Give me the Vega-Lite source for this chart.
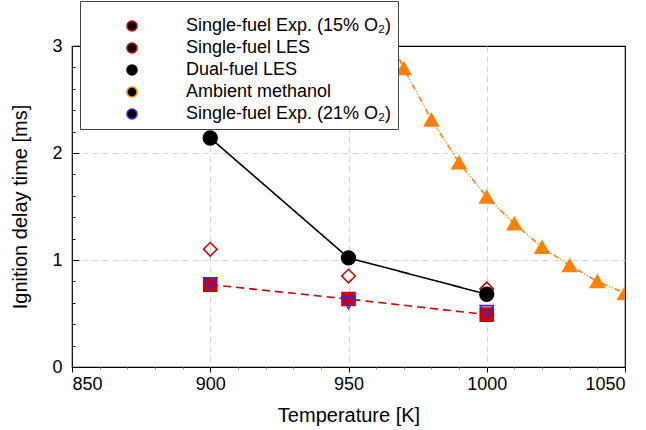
{
  "$schema": "https://vega.github.io/schema/vega-lite/v6.json",
  "width": 553,
  "height": 321,
  "autosize": "none",
  "padding": {"left": 72, "top": 46, "right": 21, "bottom": 63},
  "background": "white",
  "config": {
    "view": {"stroke": "black", "strokeWidth": 1.2},
    "font": "Liberation Sans",
    "axis": {"labelFont": "Liberation Sans", "titleFont": "Liberation Sans", "labelColor": "black", "titleColor": "black", "titleFontWeight": "normal", "domain": false, "tickColor": "black", "labelOverlap": false},
    "legend": {
      "titleFontSize": 8,
      "titleColor": "transparent",
      "titlePadding": 2,
      "orient": "none",
      "legendX": 8,
      "legendY": -45,
      "padding": 6,
      "fillColor": "white",
      "strokeColor": "#444",
      "labelFont": "Liberation Sans",
      "labelFontSize": 18,
      "labelColor": "black",
      "labelLimit": 400,
      "rowPadding": 4,
      "symbolSize": 100,
      "symbolOffset": 37,
      "labelOffset": 45
    }
  },
  "resolve": {"axis": {"x": "independent", "y": "independent"}},
  "data": {"values": [
    {"series": "Single-fuel Exp. (15% O₂)", "T": 900, "t": 1.10},
    {"series": "Single-fuel Exp. (15% O₂)", "T": 950, "t": 0.85},
    {"series": "Single-fuel Exp. (15% O₂)", "T": 1000, "t": 0.73},
    {"series": "Single-fuel LES", "T": 900, "t": 0.77},
    {"series": "Single-fuel LES", "T": 950, "t": 0.635},
    {"series": "Single-fuel LES", "T": 1000, "t": 0.49},
    {"series": "Dual-fuel LES", "T": 900, "t": 2.14},
    {"series": "Dual-fuel LES", "T": 950, "t": 1.02},
    {"series": "Dual-fuel LES", "T": 1000, "t": 0.68},
    {"series": "Ambient methanol", "T": 960, "t": 3.35},
    {"series": "Ambient methanol", "T": 970, "t": 2.79},
    {"series": "Ambient methanol", "T": 980, "t": 2.31},
    {"series": "Ambient methanol", "T": 990, "t": 1.91},
    {"series": "Ambient methanol", "T": 1000, "t": 1.59},
    {"series": "Ambient methanol", "T": 1010, "t": 1.34},
    {"series": "Ambient methanol", "T": 1020, "t": 1.12},
    {"series": "Ambient methanol", "T": 1030, "t": 0.95},
    {"series": "Ambient methanol", "T": 1040, "t": 0.80},
    {"series": "Ambient methanol", "T": 1050, "t": 0.69},
    {"series": "Single-fuel Exp. (21% O₂)", "T": 900, "t": 0.78},
    {"series": "Single-fuel Exp. (21% O₂)", "T": 950, "t": 0.60},
    {"series": "Single-fuel Exp. (21% O₂)", "T": 1000, "t": 0.52}
  ]},
  "layer": [
    {
      "transform": [{"filter": "datum.series === 'Single-fuel LES' || datum.series === 'Dual-fuel LES' || datum.series === 'Ambient methanol'"}],
      "mark": {"type": "line", "clip": true, "strokeWidth": 1.6},
      "encoding": {
        "x": {"field": "T", "type": "quantitative", "title": "Temperature [K]",
          "scale": {"domain": [850, 1050], "nice": false, "zero": false},
          "axis": {"orient": "bottom", "values": [850, 900, 950, 1000, 1050], "format": "d",
            "labelFontSize": 18, "titleFontSize": 20, "labelPadding": 3, "titlePadding": 12,
            "tickSize": 5, "grid": true, "gridColor": "#d4d4d4", "gridDash": [6, 4],
            "gridOpacity": {"condition": {"test": "datum.value > 850 && datum.value < 1050", "value": 1}, "value": 0}}},
        "y": {"field": "t", "type": "quantitative", "title": "Ignition delay time [ms]",
          "scale": {"domain": [0, 3], "nice": false},
          "axis": {"orient": "left", "values": [0, 1, 2, 3], "format": "d",
            "labelFontSize": 18, "titleFontSize": 20, "labelPadding": 17, "titlePadding": 21,
            "tickSize": -7, "grid": true, "gridColor": "#d4d4d4", "gridDash": [6, 4],
            "gridOpacity": {"condition": {"test": "datum.value > 0 && datum.value < 3", "value": 1}, "value": 0}}},
        "color": {"field": "series", "type": "nominal", "legend": null,
          "scale": {"domain": ["Single-fuel LES", "Dual-fuel LES", "Ambient methanol"], "range": ["#d10000", "black", "#ff8000"]}},
        "strokeDash": {"field": "series", "type": "nominal", "legend": null,
          "scale": {"domain": ["Single-fuel LES", "Dual-fuel LES", "Ambient methanol"], "range": [[8, 5], [1, 0], [6, 2, 1, 2, 1, 2]]}}
      }
    },
    {
      "mark": {"type": "point", "clip": true, "strokeWidth": 1.6, "opacity": 1},
      "encoding": {
        "x": {"field": "T", "type": "quantitative",
          "axis": {"orient": "bottom", "values": [860,870,880,890,910,920,930,940,960,970,980,990,1010,1020,1030,1040],
            "labels": false, "title": null, "tickSize": 2, "tickColor": "#888", "grid": false}},
        "y": {"field": "t", "type": "quantitative",
          "axis": {"orient": "left", "values": [0.2,0.4,0.6,0.8,1.2,1.4,1.6,1.8,2.2,2.4,2.6,2.8],
            "labels": false, "title": null, "tickSize": -3, "grid": false}},
        "stroke": {"field": "series", "type": "nominal",
          "scale": {"domain": ["Single-fuel Exp. (15% O₂)", "Single-fuel LES", "Dual-fuel LES", "Ambient methanol", "Single-fuel Exp. (21% O₂)"],
                    "range": ["#d10000", "#d10000", "black", "#ff8000", "#2a2af5"]},
          "legend": {
            "title": ".",
            "encode": {
              "symbols": {
                "shape": {
                  "condition": [
                    {"test": "datum.value === 'Single-fuel LES'", "value": "M-8,0H-6.6M-5.6,0H-4.2M-3.2,0H-1.8M1.8,0H3.2M4.2,0H5.6M6.6,0H8M-1.2,-1.2H1.2V1.2H-1.2Z"},
                    {"test": "datum.value === 'Dual-fuel LES'", "value": "M-8,0H-1.3M1.3,0H8M-1.3,0A1.3,1.3 0 1,0 1.3,0A1.3,1.3 0 1,0 -1.3,0Z"},
                    {"test": "datum.value === 'Ambient methanol'", "value": "M-8,0H-6.8M-6.4,0H-6.2M-5.8,0H-5.6M-5.2,0H-4M-3.6,0H-3.4M-3,0H-2.8M-2.4,0H-1.4M1.4,0H2.4M2.8,0H3M3.4,0H3.6M4,0H5.2M5.6,0H5.8M6.2,0H6.4M6.8,0H8M0,-1.3L1.4,1.1H-1.4Z"},
                    {"test": "datum.value === 'Single-fuel Exp. (21% O₂)'", "value": "M-1.4,-1.1H1.4L0,1.3Z"}
                  ],
                  "value": "M0,-1.3L1.3,0L0,1.3L-1.3,0Z"
                },
                "fill": {
                  "condition": [
                    {"test": "datum.value === 'Single-fuel LES'", "value": "#d10000"},
                    {"test": "datum.value === 'Dual-fuel LES'", "value": "black"},
                    {"test": "datum.value === 'Ambient methanol'", "value": "#ff8000"}
                  ],
                  "value": "transparent"
                },
                "size": {"value": 100},
                "strokeWidth": {"value": 1.6},
                "opacity": {"value": 1}
              }
            }
          }},
        "fill": {"field": "series", "type": "nominal", "sort": "ascending", "legend": null,
          "scale": {"range": ["#ff8000", "black", "transparent", "transparent", "#d10000"]}},
        "shape": {"field": "series", "type": "nominal", "sort": "ascending", "legend": null,
          "scale": {"range": ["triangle-up", "circle", "diamond", "triangle-down", "square"]}},
        "size": {"field": "series", "type": "nominal", "sort": "ascending", "legend": null,
          "scale": {"range": [196, 170, 196, 196, 160]}}
      }
    }
  ]
}
